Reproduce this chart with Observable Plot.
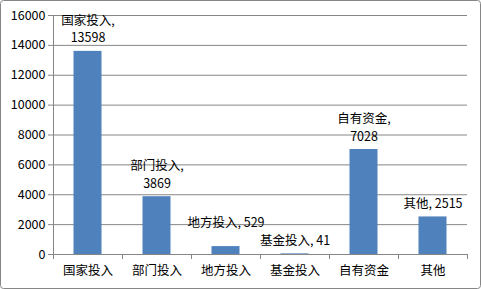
<!DOCTYPE html>
<html>
<head>
<meta charset="utf-8">
<script src="https://cdn.jsdelivr.net/npm/d3@7"></script>
<script src="https://cdn.jsdelivr.net/npm/@observablehq/plot@0.6"></script>
<style>
  html, body { margin: 0; padding: 0; background: #fff; }
  svg { display: block; }
</style>
</head>
<body>
<div id="chart"></div>
<script>
const categories = ["国家投入", "部门投入", "地方投入", "基金投入", "自有资金", "其他"];
const values = [13598, 3869, 529, 41, 7028, 2515];
const yTicks = [0, 2000, 4000, 6000, 8000, 10000, 12000, 14000, 16000];

const data = categories.map((name, i) => ({name, value: values[i]}));
const label = d => (d.name.length + String(d.value).length > 7)
  ? `${d.name},\n${d.value}` : `${d.name}, ${d.value}`;

const W = 481, H = 289;
const mL = 53, mR = 14, mT = 15, mB = 35;
const bw = (W - mL - mR) / categories.length;
const barW = 28;
const gray = "#868686";
const font = "'Noto Sans CJK SC', 'Noto Sans', sans-serif";

const lifted = new Set(["地方投入"]);

const chart = Plot.plot({
  width: W, height: H,
  marginLeft: mL, marginRight: mR, marginTop: mT, marginBottom: mB,
  style: {fontFamily: font, fontSize: "12.5px", color: "#000", background: "#fff"},
  x: {domain: categories, padding: 0, label: null},
  y: {domain: [0, 16000], label: null},
  marks: [
    Plot.gridY(yTicks, {stroke: gray, strokeOpacity: 1}),
    Plot.ruleX([categories[0]], {dx: -bw / 2, stroke: gray}),
    Plot.ruleY([0], {stroke: gray}),
    Plot.barY(data, {x: "name", y: "value", fill: "#4F81BD",
      insetLeft: (bw - barW) / 2, insetRight: (bw - barW) / 2}),
    Plot.ruleX(categories, {dx: -bw / 2, y1: 0, y2: 0, insetBottom: -5, stroke: gray}),
    Plot.ruleX([categories[categories.length - 1]], {dx: bw / 2, y1: 0, y2: 0, insetBottom: -5, stroke: gray}),
    Plot.axisY(yTicks, {tickSize: 5, tickPadding: 3, tickFormat: d => String(d), stroke: gray, fill: "#000", label: null, fontSize: 12.5}),
    Plot.axisX({tickSize: 0, tickPadding: 12, fill: "#000", label: null, fontSize: 12.5}),
    Plot.text(data.filter(d => !lifted.has(d.name)), {x: "name", y: "value", text: label,
      lineAnchor: "bottom", dy: -9, lineHeight: 1.38, fill: "#000", fontSize: 12.5}),
    Plot.text(data.filter(d => lifted.has(d.name)), {x: "name", y: "value", text: label,
      lineAnchor: "bottom", dy: -20, lineHeight: 1.38, fill: "#000", fontSize: 12.5})
  ]
});

d3.select(chart).append("rect")
  .attr("x", 0.5).attr("y", 0.5)
  .attr("width", W - 1).attr("height", H - 1)
  .attr("rx", 3).attr("fill", "none").attr("stroke", gray);

document.getElementById("chart").appendChild(chart);
</script>
</body>
</html>
